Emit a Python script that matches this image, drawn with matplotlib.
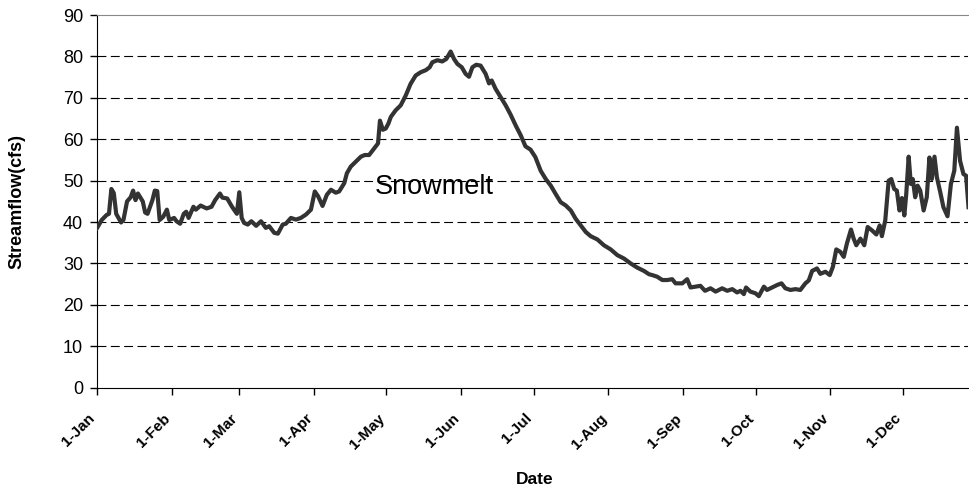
import matplotlib
matplotlib.use("Agg")
import matplotlib.pyplot as plt
from matplotlib.transforms import ScaledTranslation

plt.rcParams['font.family'] = ['Liberation Sans', 'DejaVu Sans']

# Daily streamflow (day of year, cfs)
day_of_year = [
    0, 2, 4, 5, 6, 7, 8, 10, 11, 12.5, 14, 15, 16, 17, 19, 20, 21, 23, 24, 25,
    26, 27.5, 29, 30, 32, 33, 34.5, 36, 37, 38, 40, 41, 43, 44, 45.5, 47.5, 49,
    51, 52, 54, 56, 58, 59, 60, 61, 62.5, 64, 66, 68, 70, 71.4, 73.5, 75, 77,
    78.3, 80.4, 82.5, 84.5, 86.6, 88.7, 90.3, 91.7, 93.5, 95.3, 97, 99, 100.4,
    102.5, 103.6, 105.2, 107.3, 109.4, 111, 112.8, 114.9, 116.5, 117.3, 118.5,
    119.7, 120.8, 121.8, 123.8, 125.9, 128, 130, 132.1, 134.2, 136.3, 137.9,
    139, 141.1, 143.1, 144.8, 146.6, 148, 149.4, 151.2, 152.8, 154.2, 155.6,
    157.2, 159, 161.1, 162.5, 163.6, 165.2, 167.3, 169.4, 171.4, 173.5, 175.6,
    177.6, 179.7, 181.7, 183.9, 186, 188.1, 190.1, 192.2, 194.3, 196.4, 198.4,
    200.5, 202.6, 204.6, 207.4, 210.1, 212.9, 215.7, 218.4, 221.2, 223.9,
    226.7, 228.8, 230.1, 232.2, 234.3, 236.4, 238.4, 239.8, 242.6, 244.6, 246,
    248.1, 250.1, 252, 254.3, 256.4, 259.1, 261.2, 263.3, 265.3, 266.7, 268.1,
    269, 270.8, 272.9, 274.3, 276.4, 277.7, 279.8, 281.9, 283.7, 285.3, 287.4,
    289.5, 291.5, 293.6, 295, 296.4, 298.4, 299.8, 301.9, 303.7, 305, 306.4,
    308.1, 309.5, 310.8, 312.5, 313.6, 314.7, 316.4, 318, 319.4, 321.2, 323,
    324.4, 325.3, 326.7, 328.1, 329.2, 330.4, 331.5, 332.6, 333.6, 334.6,
    335.4, 336.4, 337.3, 338.1, 339.1, 340.1, 341.2, 342.6, 343.9, 345, 346,
    347.1, 348.1, 349.5, 350.8, 352.5, 353.9, 355.3, 356.4, 357.7, 359.1,
    360.2, 361.2,
]
streamflow_cfs = [
    38.5, 40.5, 41.7, 42, 48, 47, 42, 39.9, 40.5, 45, 46, 47.6, 45.3, 46.9, 45,
    42.3, 42, 45.3, 47.6, 47.5, 40.5, 41.3, 43, 40.5, 41, 40.2, 39.6, 42, 42.5,
    41, 43.7, 43, 44, 43.7, 43.3, 43.7, 45.3, 46.9, 45.9, 45.7, 43.7, 42, 47.2,
    41, 39.8, 39.4, 40.2, 39.1, 40.2, 38.6, 39, 37.4, 37.2, 39.4, 39.6, 41,
    40.6, 41, 41.8, 43, 47.4, 46.2, 43.9, 46.6, 47.8, 47.1, 47.4, 49.4, 51.8,
    53.4, 54.6, 55.8, 56.2, 56.2, 57.8, 59, 64.5, 62.3, 62.6, 63.8, 65.4, 67,
    68.2, 70.6, 73.4, 75.4, 76.2, 76.7, 77.4, 78.6, 79.1, 78.8, 79.4, 81.2,
    79.4, 78.2, 77.4, 75.8, 75.1, 77.4, 78, 77.8, 75.8, 73.5, 74.2, 72.2, 70.2,
    68.2, 66, 63.4, 61, 58.3, 57.5, 55.7, 52.4, 50.4, 48.8, 46.8, 44.8, 44,
    42.8, 40.8, 39.2, 37.6, 36.6, 35.8, 34.4, 33.4, 32, 31.2, 30, 29, 28.2,
    27.4, 27.2, 26.8, 26, 26, 26.2, 25.2, 25.2, 26.2, 24.2, 24.4, 24.6, 23.4,
    24, 23.2, 24, 23.4, 23.8, 23, 23.4, 22.6, 24.2, 23.2, 22.8, 22.1, 24.4,
    23.6, 24.2, 24.8, 25.2, 24, 23.6, 23.8, 23.6, 25.2, 25.9, 28.2, 28.8, 27.5,
    28, 27.2, 29.2, 33.4, 32.8, 31.6, 34.8, 38.2, 36, 34.4, 36, 34.4, 38.8, 38,
    37, 39.2, 36.6, 40.4, 50, 50.4, 48, 47.6, 42.8, 45.8, 41.6, 46.8, 55.8,
    49.2, 50.4, 46, 48.8, 47.6, 42.8, 46, 55.6, 50.4, 55.8, 50.8, 47.2, 43.6,
    41.4, 49.2, 52.4, 62.8, 54.8, 51.6, 51.2, 43.6,
]

month_start_days = [0, 31, 59, 90, 120, 151, 181, 212, 243, 273, 304, 334]
month_labels = ['1-Jan', '1-Feb', '1-Mar', '1-Apr', '1-May', '1-Jun',
                '1-Jul', '1-Aug', '1-Sep', '1-Oct', '1-Nov', '1-Dec']

fig = plt.figure(figsize=(9.69, 4.87), dpi=100)
ax = fig.add_axes([0.1, 0.204, 0.899, 0.765])

# Gridlines
for yv in range(10, 90, 10):
    ax.axhline(yv, color='black', linewidth=0.8, linestyle=(0, (8, 4)), zorder=1)

ax.plot(day_of_year, streamflow_cfs, color='#333333', linewidth=3,
        solid_joinstyle='round', zorder=3)

ax.text(115, 46.7, 'Snowmelt', fontsize=19.5, ha='left', va='baseline')

ax.set_xlim(0, 361)
ax.set_ylim(0, 90)
ax.set_yticks(range(0, 100, 10))
ax.set_xticks(month_start_days)
ax.set_xticklabels(month_labels, rotation=45, ha='right', rotation_mode='anchor',
                   fontsize=11, fontweight='bold')
ax.tick_params(axis='y', labelsize=13, length=5, width=1, direction='out', pad=5)
ax.tick_params(axis='x', length=5, width=1, direction='out', pad=12)

# nudge the rotated date labels left so they sit like the original
shift = ScaledTranslation(-9 / 100, 0, fig.dpi_scale_trans)
for lbl in ax.get_xticklabels():
    lbl.set_transform(lbl.get_transform() + shift)

ax.spines['right'].set_visible(False)
ax.spines['top'].set_color('#888888')
ax.spines['left'].set_color('black')
ax.spines['bottom'].set_color('black')

ax.set_xlabel('Date', fontsize=12.5, fontweight='bold')
ax.set_ylabel('Streamflow(cfs)', fontsize=13, fontweight='bold')
ax.xaxis.set_label_coords(0.502, -0.226)
ax.yaxis.set_label_coords(-0.082, 0.5)

fig.savefig('out.png', dpi=100)
